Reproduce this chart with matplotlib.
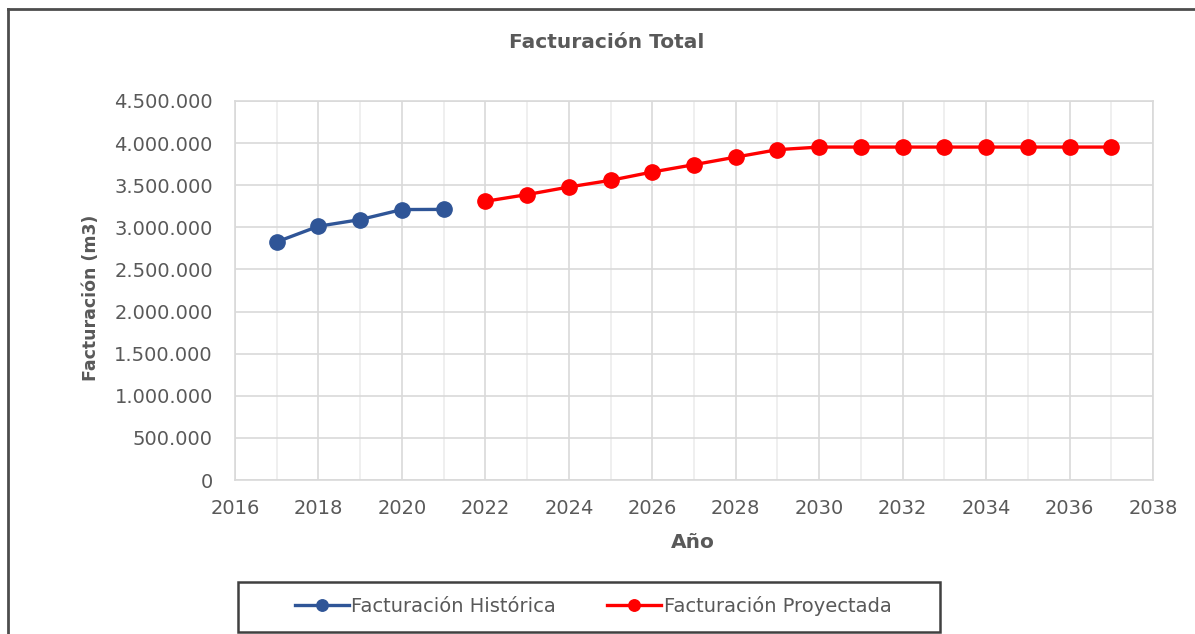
import matplotlib.pyplot as plt
from matplotlib.lines import Line2D
from matplotlib.patches import Rectangle
from matplotlib.ticker import FuncFormatter, MultipleLocator

plt.rcParams['font.family'] = ['DejaVu Sans']

hist_years = [2017, 2018, 2019, 2020, 2021]
hist_vals = [2827000, 3013000, 3092000, 3211000, 3213000]

proj_years = list(range(2022, 2038))
proj_vals = [3309000, 3389000, 3479000, 3558000, 3657000, 3744000, 3834000, 3922000,
             3953000, 3953000, 3953000, 3953000, 3953000, 3953000, 3953000, 3953000]

TXT = "#595959"
GRID = "#d9d9d9"

W, H = 1195, 634
fig = plt.figure(figsize=(W / 100, H / 100), dpi=100, facecolor="white")
ax = fig.add_axes([235 / W, 1 - 480 / H, (1153 - 235) / W, (480 - 101) / H])

ax.plot(hist_years, hist_vals, color="#2f5597", lw=2.4, marker="o", ms=11,
        label="Facturación Histórica", zorder=3)
ax.plot(proj_years, proj_vals, color="#ff0000", lw=2.4, marker="o", ms=11,
        label="Facturación Proyectada", zorder=3)

ax.set_xlim(2016, 2038)
ax.set_ylim(0, 4500000)
ax.xaxis.set_major_locator(MultipleLocator(2))
ax.xaxis.set_minor_locator(MultipleLocator(1))
ax.yaxis.set_major_locator(MultipleLocator(500000))
ax.yaxis.set_major_formatter(FuncFormatter(lambda v, p: f"{v:,.0f}".replace(",", ".")))

ax.grid(which="major", color=GRID, lw=1.2)
ax.grid(which="minor", axis="x", color="#ececec", lw=1.2)
ax.set_axisbelow(True)
for s in ax.spines.values():
    s.set_color(GRID)
    s.set_linewidth(1.2)
ax.tick_params(which="both", length=0, labelsize=14, labelcolor=TXT)
ax.tick_params(axis="y", pad=16)
ax.tick_params(axis="x", pad=14)

fig.text(607 / W, 1 - 42 / H, "Facturación Total", fontsize=14.5, fontweight="bold",
         color=TXT, ha="center", va="center")
ax.set_xlabel("Año", fontsize=14.5, fontweight="bold", color=TXT)
ax.xaxis.set_label_coords((693 - 235) / 918, (480 - 543) / 379)
ax.xaxis.label.set_va("center")
ax.set_ylabel("Facturación (m3)", fontsize=12.5, fontweight="bold", color=TXT)
ax.yaxis.set_label_coords((91 - 235) / 918, (480 - 298) / 379)
ax.yaxis.label.set_va("center")

# outer chart frame (cropped on right and bottom)
fig.add_artist(Line2D([8 / W, 8 / W], [0, 1 - 9 / H], color="#4d4d4d", lw=2))
fig.add_artist(Line2D([8 / W, 1], [1 - 9 / H, 1 - 9 / H], color="#4d4d4d", lw=2))

# legend box
fig.add_artist(Rectangle((238 / W, 1 - 632 / H), (940 - 238) / W, 50 / H,
                         transform=fig.transFigure, fill=False, ec="#404040", lw=1.8))
leg = fig.legend(loc="center", bbox_to_anchor=(593 / W, 1 - 606 / H), ncol=2,
                 frameon=False, fontsize=14, handlelength=2.8, handletextpad=0.12,
                 columnspacing=2.6, markerscale=0.75)
for t in leg.get_texts():
    t.set_color(TXT)

fig.savefig("out.png", dpi=100, facecolor="white")
